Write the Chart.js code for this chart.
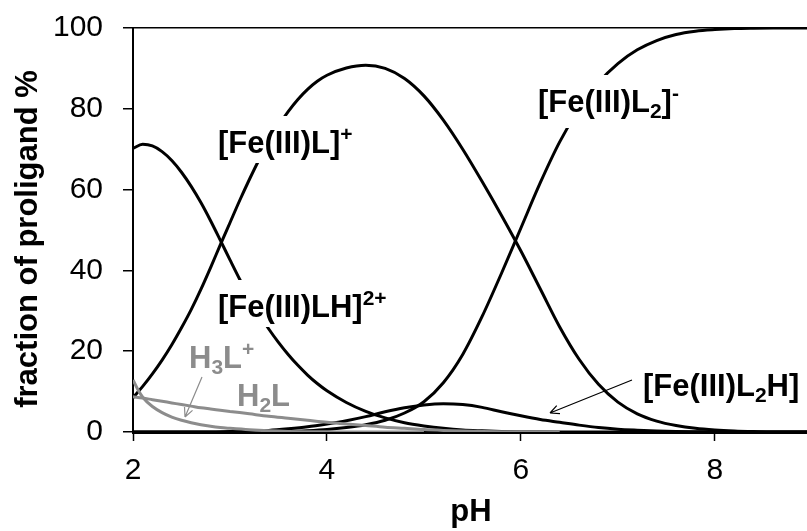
<!DOCTYPE html>
<html><head><meta charset="utf-8">
<script src="https://cdn.jsdelivr.net/npm/chart.js@4"></script>
<style>html,body{margin:0;padding:0;background:#fff;overflow:hidden}</style>
</head><body>
<canvas id="c" width="807" height="531" style="width:807px;height:531px;display:block"></canvas>
<script>
const FONT = "'Liberation Sans', Arial, Helvetica, sans-serif";
const BLACK = '#000000';
const GRAY = '#8c8c8c';

// tick labels
const xTicks = [2, 4, 6, 8];
const yTicks = [0, 20, 40, 60, 80, 100];

// [Fe(III)LH]2+
const pH_FeLH = [2.0,2.1,2.2,2.3,2.4,2.5,2.6,2.7,2.8,2.9,3.0,3.1,3.2,3.3,3.4,3.5,3.6,3.7,3.8,3.9,4.0,4.2,4.4,4.6,4.8,5.0,5.2,5.4,5.6,5.8,6.0,6.4,7.0,8.0,8.95];
const val_FeLH = [70.2,71.2,70.8,69.4,67.2,64.3,60.8,56.8,52.3,47.5,42.6,37.8,33.3,29.2,25.5,22.2,19.2,16.5,14.1,12.0,10.2,7.3,5.1,3.5,2.3,1.5,0.9,0.5,0.3,0.15,0.07,0,0,0,0];

// [Fe(III)L]+
const pH_FeL = [2.0,2.1,2.2,2.3,2.4,2.5,2.6,2.7,2.8,2.9,3.0,3.1,3.2,3.3,3.4,3.5,3.6,3.7,3.8,3.9,4.0,4.2,4.4,4.6,4.8,5.0,5.2,5.4,5.6,5.8,6.0,6.2,6.4,6.6,6.8,7.0,7.2,7.4,7.6,7.8,8.0,8.2,8.4,8.6,8.95];
const val_FeL = [8.5,11.3,14.4,17.8,21.6,25.8,30.3,35.3,40.7,46.3,51.8,57.3,62.5,67.4,71.8,75.8,79.3,82.3,84.8,86.8,88.3,90.1,90.8,90,87.5,83.2,77.2,70,62,53.6,44.8,35.4,26,18,11.8,7.4,4.5,2.7,1.6,0.9,0.5,0.25,0.1,0,0];

// [Fe(III)L2]-
const pH_FeL2 = [2.0,3.4,3.6,3.8,4.0,4.2,4.4,4.6,4.8,5.0,5.2,5.4,5.6,5.8,6.0,6.2,6.4,6.6,6.8,7.0,7.2,7.4,7.6,7.8,8.0,8.2,8.4,8.6,8.95];
const val_FeL2 = [0,0,0.1,0.3,0.6,1.1,1.8,2.9,4.7,7.5,12.2,19.2,28.6,39.3,50.5,61.7,71.8,80,86.5,91.2,94.6,96.9,98.4,99.2,99.6,99.85,99.95,100,100];

// [Fe(III)L2H]
const pH_FeL2H = [2.0,2.8,3.0,3.2,3.4,3.6,3.8,4.0,4.2,4.4,4.6,4.8,5.0,5.2,5.4,5.6,5.8,6.0,6.2,6.4,6.6,6.8,7.0,7.2,7.4,7.6,7.8,8.0,8.95];
const val_FeL2H = [0,0,0.1,0.2,0.4,0.8,1.3,2.0,2.8,3.8,5.0,6.0,6.7,7.0,6.8,6.1,5.0,4.0,3.1,2.4,1.7,1.1,0.7,0.45,0.25,0.12,0.05,0,0];

// H3L+
const pH_H3L = [2.0,2.05,2.1,2.2,2.3,2.4,2.5,2.6,2.7,2.8,2.9,3.0,3.2,3.4,3.6,3.8,4.0,4.2,5.0];
const val_H3L = [12.9,10.5,8.6,6.3,4.8,3.7,2.9,2.3,1.8,1.4,1.1,0.9,0.55,0.3,0.15,0.08,0.04,0,0];

// H2L
const pH_H2L = [2.0,2.1,2.2,2.3,2.4,2.5,2.6,2.7,2.8,2.9,3.0,3.2,3.4,3.6,3.8,4.0,4.2,4.4,4.6,4.8,5.0,5.2,5.4,5.6,5.8,6.0,6.4];
const val_H2L = [8.7,8.4,8.0,7.6,7.2,6.8,6.4,6.0,5.7,5.4,5.1,4.5,3.9,3.4,2.9,2.4,2.0,1.6,1.2,0.9,0.6,0.4,0.25,0.15,0.08,0.04,0];

const pts = (xs, ys) => xs.map((x, i) => ({x: x, y: ys[i]}));
const ds = (label, xs, ys, color) => ({
  label: label, data: pts(xs, ys), borderColor: color, borderWidth: 3,
  pointRadius: 0, fill: false, cubicInterpolationMode: 'monotone'
});

const LFS = 31;
function fontFor(style) {
  const s = style === 'n' ? LFS : Math.round(LFS * 0.68);
  return 'bold ' + s + 'px ' + FONT;
}

function rich(ctx, x, y, parts, color, box) {
  let total = 0;
  const widths = parts.map(p => { ctx.font = fontFor(p[1]); const w = ctx.measureText(p[0]).width; total += w; return w; });
  if (box) {
    const hasSub = parts.some(p => p[1] === 'sub');
    ctx.fillStyle = '#ffffff';
    ctx.fillRect(x - 3, y - 37, total + 6, 47 + (hasSub ? 6 : 0));
  }
  ctx.fillStyle = color;
  ctx.textAlign = 'left';
  ctx.textBaseline = 'alphabetic';
  let cx = x;
  parts.forEach((p, i) => {
    ctx.font = fontFor(p[1]);
    let dy = 0;
    if (p[1] === 'sup') dy = -12;
    if (p[1] === 'sub') dy = 6;
    ctx.fillText(p[0], cx, y + dy);
    cx += widths[i];
  });
}

function arrow(ctx, x1, y1, x2, y2, color) {
  ctx.save();
  ctx.strokeStyle = color;
  ctx.lineWidth = 1.2;
  ctx.beginPath();
  ctx.moveTo(x1, y1); ctx.lineTo(x2, y2);
  const a = Math.atan2(y2 - y1, x2 - x1);
  const L = 10, sp = 0.45;
  ctx.moveTo(x2, y2); ctx.lineTo(x2 - L * Math.cos(a - sp), y2 - L * Math.sin(a - sp));
  ctx.moveTo(x2, y2); ctx.lineTo(x2 - L * Math.cos(a + sp), y2 - L * Math.sin(a + sp));
  ctx.stroke();
  ctx.restore();
}

const annotate = {
  id: 'annotate',
  afterDatasetsDraw(chart) {
    const ctx = chart.ctx;
    ctx.save();
    rich(ctx, 218, 153, [['[Fe(III)L]', 'n'], ['+', 'sup']], BLACK, true);
    rich(ctx, 218, 317, [['[Fe(III)LH]', 'n'], ['2+', 'sup']], BLACK, true);
    rich(ctx, 538, 112, [['[Fe(III)L', 'n'], ['2', 'sub'], [']', 'n'], ['-', 'sup']], BLACK, true);
    rich(ctx, 643, 396, [['[Fe(III)L', 'n'], ['2', 'sub'], ['H]', 'n']], BLACK, true);
    rich(ctx, 189, 368, [['H', 'n'], ['3', 'sub'], ['L', 'n'], ['+', 'sup']], GRAY, false);
    rich(ctx, 237, 406, [['H', 'n'], ['2', 'sub'], ['L', 'n']], GRAY, false);
    arrow(ctx, 202, 377, 185, 417, GRAY);
    arrow(ctx, 632, 380, 550, 413, BLACK);
    // axis titles
    ctx.fillStyle = BLACK;
    ctx.font = 'bold 31px ' + FONT;
    ctx.textAlign = 'center';
    ctx.textBaseline = 'middle';
    ctx.fillText('pH', 471, 512);
    ctx.translate(28, 239);
    ctx.rotate(-Math.PI / 2);
    ctx.fillText('fraction of proligand %', 0, 0);
    ctx.restore();
  }
};

new Chart(document.getElementById('c'), {
  type: 'line',
  data: {
    datasets: [
      ds('H3L+', pH_H3L, val_H3L, GRAY),
      ds('H2L', pH_H2L, val_H2L, GRAY),
      ds('[Fe(III)LH]2+', pH_FeLH, val_FeLH, BLACK),
      ds('[Fe(III)L]+', pH_FeL, val_FeL, BLACK),
      ds('[Fe(III)L2]-', pH_FeL2, val_FeL2, BLACK),
      ds('[Fe(III)L2H]', pH_FeL2H, val_FeL2H, BLACK)
    ]
  },
  options: {
    responsive: false,
    animation: false,
    layout: { padding: { top: 28, right: 0, left: 0, bottom: 0 } },
    plugins: { legend: { display: false }, tooltip: { enabled: false } },
    scales: {
      x: {
        type: 'linear', min: 2, max: 8.95,
        afterBuildTicks: s => { s.ticks = xTicks.map(v => ({ value: v })); },
        afterFit: s => { s.height = 99; s.paddingLeft = 0; s.paddingRight = 0; },
        grid: { display: true, drawOnChartArea: false, drawTicks: true, tickLength: 9, tickColor: BLACK, tickWidth: 1.5 },
        border: { display: true, color: BLACK, width: 3 },
        ticks: { color: BLACK, font: { family: FONT, size: 30 }, padding: 12, maxRotation: 0 }
      },
      y: {
        type: 'linear', min: 0, max: 100,
        afterBuildTicks: s => { s.ticks = yTicks.map(v => ({ value: v })); },
        afterFit: s => { s.width = 133; s.paddingTop = 0; s.paddingBottom = 0; },
        grid: {
          display: true, drawOnChartArea: true, drawTicks: true, tickLength: 10,
          color: c => (c.tick && c.tick.value === 100) ? BLACK : 'rgba(0,0,0,0)',
          lineWidth: 1.5, tickColor: BLACK, tickWidth: 1.5
        },
        border: { display: true, color: BLACK, width: 2 },
        ticks: { color: BLACK, font: { family: FONT, size: 30 }, padding: 20 }
      }
    }
  },
  plugins: [annotate]
});
</script>
</body></html>
